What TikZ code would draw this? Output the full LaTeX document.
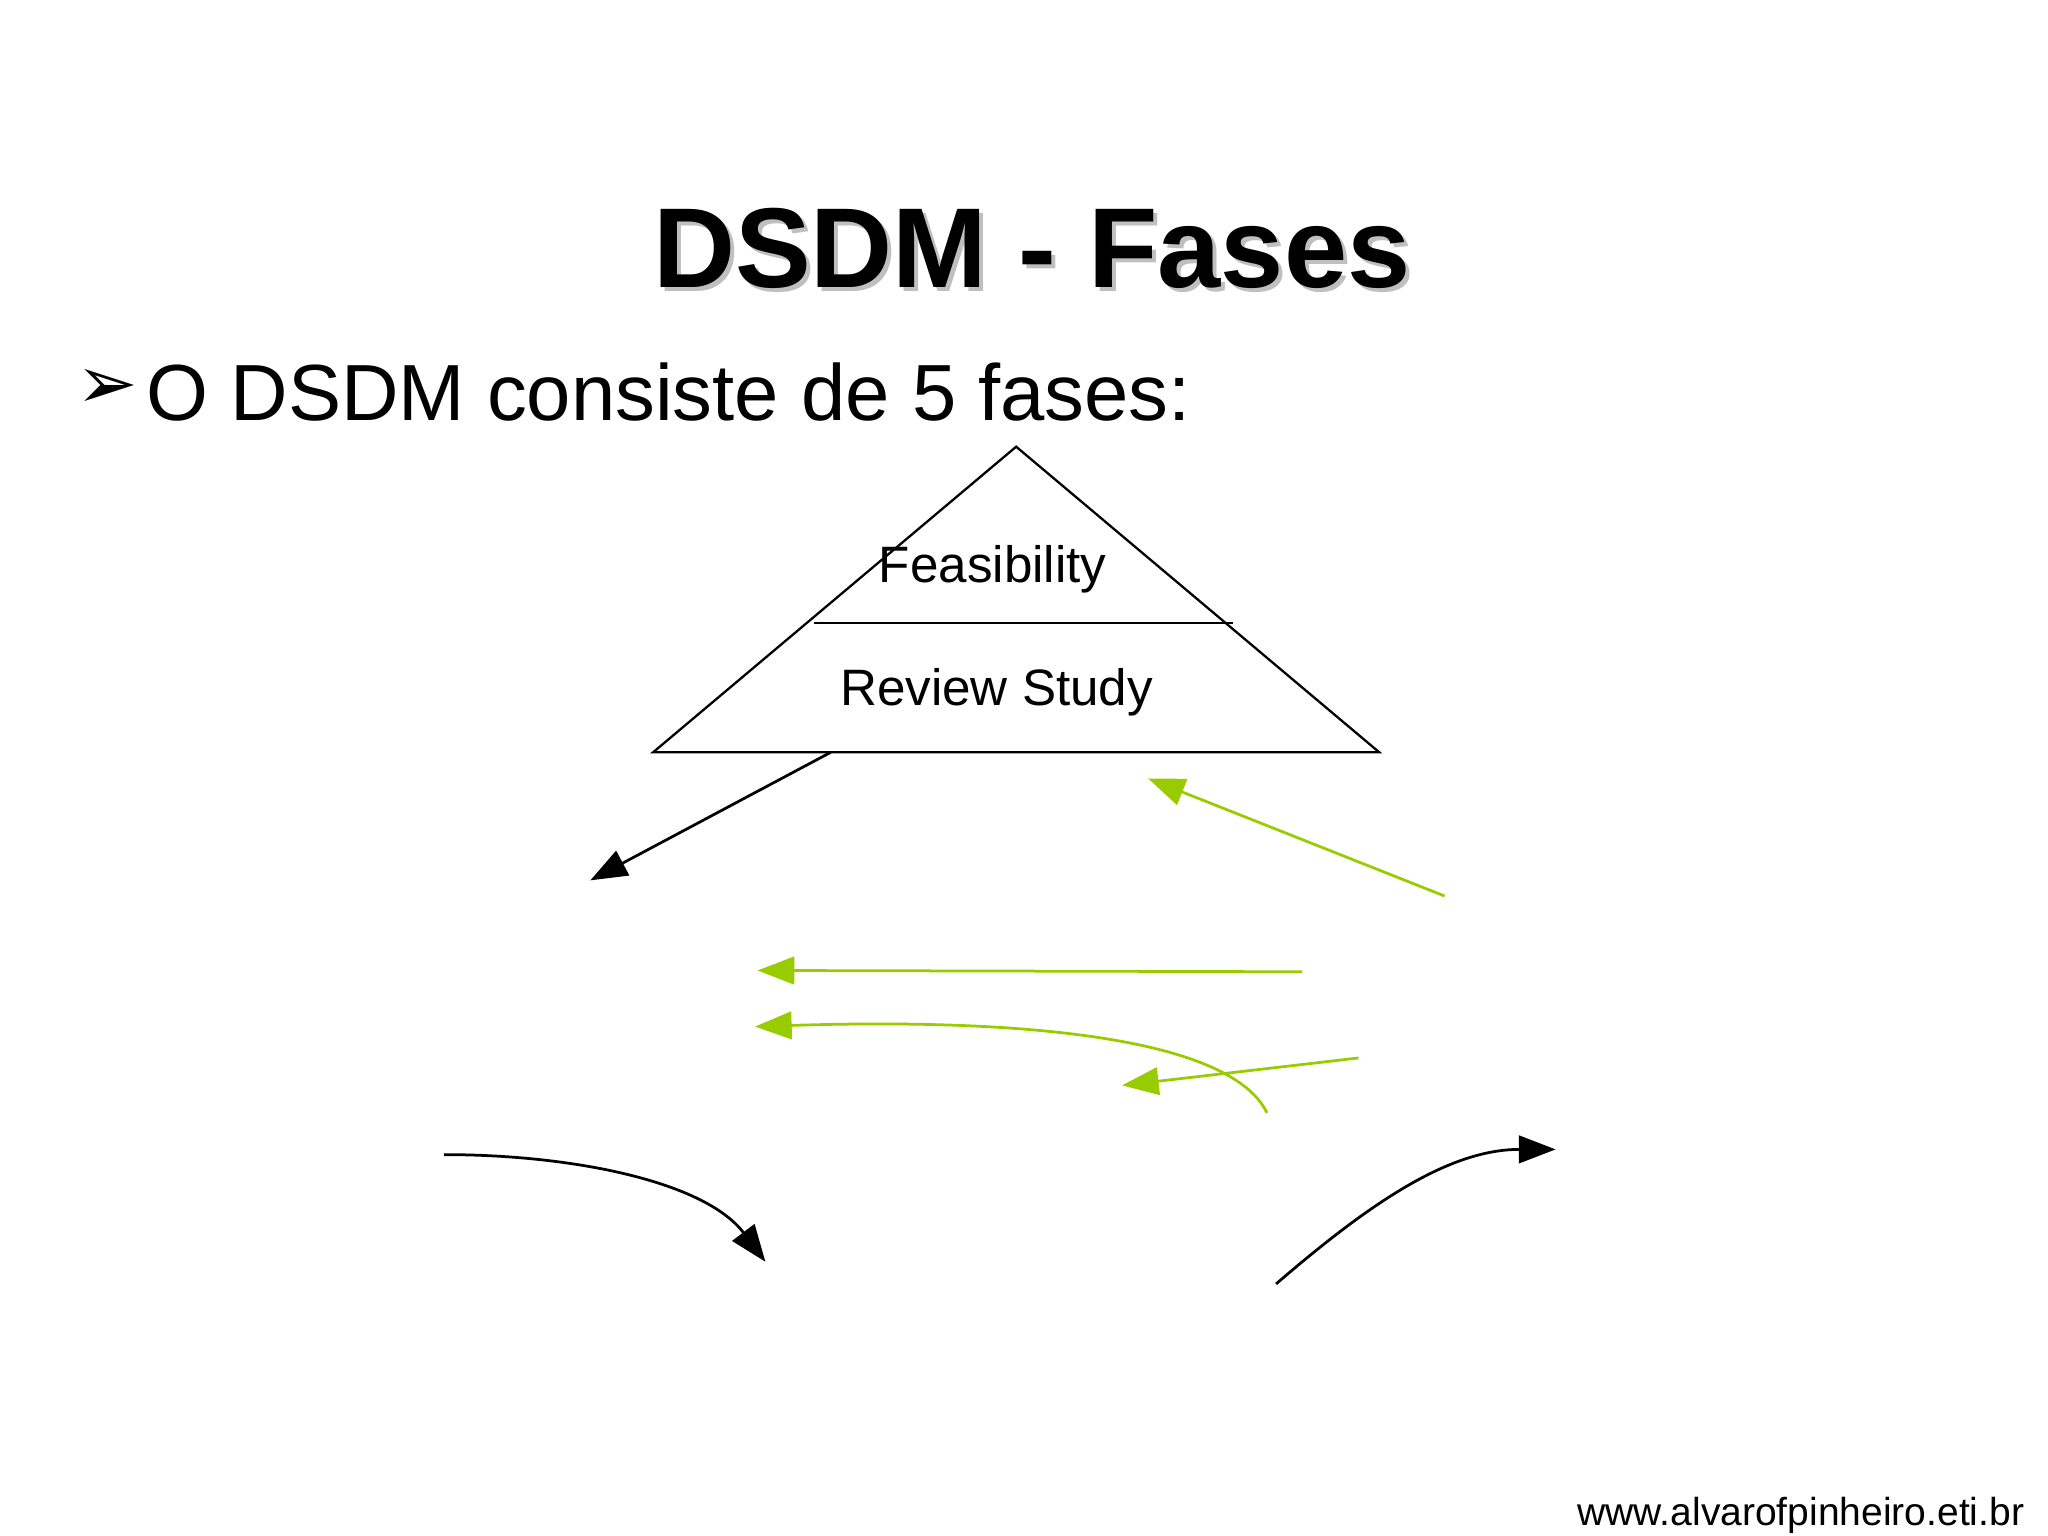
\documentclass[tikz,border=0pt]{standalone}
\usepackage{fontspec}
\setmainfont{Liberation Sans}
\newfontfamily\dejavu{DejaVu Sans}
\usetikzlibrary{arrows.meta}
\definecolor{lgreen}{HTML}{99CC00}
\begin{document}
\begin{tikzpicture}[x=0.02cm,y=-0.02cm,
  blk/.style={draw=black,line width=1.2pt,-{Triangle[length=16pt,width=12pt]}},
  grn/.style={draw=lgreen,line width=1.2pt,-{Triangle[length=16pt,width=12pt]}}]
\useasboundingbox (0,0) rectangle (1568,1176);
\node[text=gray!50] at (793,193) {\fontsize{49.5}{54}\selectfont\bfseries DSDM - Fases};
\node (title) at (790,190) {\fontsize{49.5}{54}\selectfont\bfseries DSDM - Fases};
\node[anchor=west,inner sep=0pt] (bul) at (58,298) {\dejavu\fontsize{32}{36}\selectfont ➢};
\node[anchor=west] (intro) at (106,300) {\fontsize{34.7}{40}\selectfont O DSDM consiste de 5 fases:};
\coordinate (apex) at (778,342);
\coordinate (bl) at (500,576);
\coordinate (br) at (1056,576);
\draw[line width=1pt] (apex) -- (bl) -- (br) -- cycle;
\draw[line width=1pt] (623,477) -- (944,477);
\node (feas) at (760,436) {\fontsize{22.3}{26}\selectfont Feasibility};
\node (rev) at (763,530) {\fontsize{22.3}{26}\selectfont Review Study};
\coordinate (a1) at (636,576); \coordinate (b1) at (452,674);
\draw[blk] (a1) -- (b1);
\coordinate (a2) at (1106,686); \coordinate (b2) at (879,596);
\draw[grn] (a2) -- (b2);
\coordinate (a3) at (997,744); \coordinate (b3) at (580,743);
\draw[grn] (a3) -- (b3);
\coordinate (a4) at (970,852); \coordinate (b4) at (578,786);
\draw[grn] (a4) .. controls (940,790) and (760,780) .. (b4);
\coordinate (a5) at (1040,810); \coordinate (b5) at (859,831);
\draw[grn] (a5) -- (b5);
\coordinate (a6) at (340,884); \coordinate (b6) at (586,966);
\draw[blk] (a6) .. controls (440,884) and (540,905) .. (b6);
\coordinate (a7) at (977,983); \coordinate (b7) at (1191,880);
\draw[blk] (a7) .. controls (1050,920) and (1110,880) .. (b7);
\node[anchor=east] (url) at (1556,1160) {\fontsize{17}{20}\selectfont www.alvarofpinheiro.eti.br};
\end{tikzpicture}
\end{document}
